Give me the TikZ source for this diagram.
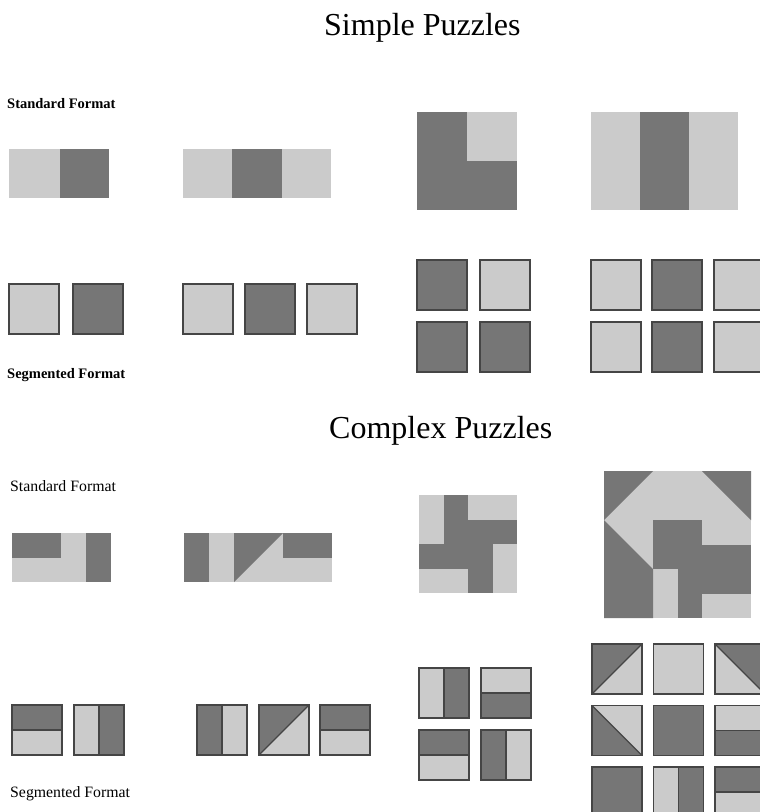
\documentclass[tikz,border=0pt]{standalone}
\usepackage{fontspec}
\setmainfont{Liberation Serif}
\definecolor{lightg}{HTML}{CBCBCB}
\definecolor{darkg}{HTML}{767676}
\definecolor{borderg}{HTML}{454545}
\tikzset{
  lt/.style={fill=lightg},
  dk/.style={fill=darkg},
  seg/.style={draw=borderg, line width=1.2pt, line join=miter},
  title/.style={anchor=base west, inner sep=0pt, font=\fontsize{32}{36}\selectfont},
  blabel/.style={anchor=base west, inner sep=0pt, font=\bfseries\fontsize{14.5}{17}\selectfont},
  rlabel/.style={anchor=base west, inner sep=0pt, font=\fontsize{15.8}{18}\selectfont},
}
% segmented 50x50 tiles, drawn in local coordinates
\newcommand\Tfull[3]{\begin{scope}[shift={(#1,#2)}]\filldraw[seg,#3] (0,0) rectangle (50,50);\end{scope}}
\newcommand\Thor[4]{\begin{scope}[shift={(#1,#2)}]
  \fill[#3] (0,0) rectangle (50,25); \fill[#4] (0,25) rectangle (50,50);
  \draw[seg] (0,25) -- (50,25); \draw[seg] (0,0) rectangle (50,50);\end{scope}}
\newcommand\Tver[4]{\begin{scope}[shift={(#1,#2)}]
  \fill[#3] (0,0) rectangle (25,50); \fill[#4] (25,0) rectangle (50,50);
  \draw[seg] (25,0) -- (25,50); \draw[seg] (0,0) rectangle (50,50);\end{scope}}
% triangle tiles: A = dark upper-left (diag BL-TR); B = dark upper-right (diag TL-BR); C = dark lower-left (diag TL-BR)
\newcommand\TtriA[2]{\begin{scope}[shift={(#1,#2)}]
  \fill[lt] (0,0) rectangle (50,50); \fill[dk] (0,0) -- (50,0) -- (0,50) -- cycle;
  \draw[seg] (0,50) -- (50,0); \draw[seg] (0,0) rectangle (50,50);\end{scope}}
\newcommand\TtriB[2]{\begin{scope}[shift={(#1,#2)}]
  \fill[lt] (0,0) rectangle (50,50); \fill[dk] (0,0) -- (50,0) -- (50,50) -- cycle;
  \draw[seg] (0,0) -- (50,50); \draw[seg] (0,0) rectangle (50,50);\end{scope}}
\newcommand\TtriC[2]{\begin{scope}[shift={(#1,#2)}]
  \fill[lt] (0,0) rectangle (50,50); \fill[dk] (0,0) -- (0,50) -- (50,50) -- cycle;
  \draw[seg] (0,0) -- (50,50); \draw[seg] (0,0) rectangle (50,50);\end{scope}}
\begin{document}
\begin{tikzpicture}[x=1pt,y=-1pt]
\useasboundingbox (0,0) rectangle (760,812);
\clip (0,0) rectangle (760,812);
\fill[white] (0,0) rectangle (760,812);

% ---------- titles and labels ----------
\node[title] (simple) at (324,35) {Simple Puzzles};
\node[title] (complex) at (329,438) {Complex Puzzles};
\node[blabel] (sstd) at (7,108) {Standard Format};
\node[blabel] (sseg) at (7,378) {Segmented Format};
\node[rlabel] (cstd) at (10,491) {Standard Format};
\node[rlabel] (cseg) at (10,797) {Segmented Format};

% ---------- simple, standard ----------
\fill[lt] (9,149) rectangle (60,198);
\fill[dk] (60,149) rectangle (109,198);

\fill[lt] (183,149) rectangle (232,198);
\fill[dk] (232,149) rectangle (282,198);
\fill[lt] (282,149) rectangle (331,198);

\fill[dk] (417,112) rectangle (517,210);
\fill[lt] (467,112) rectangle (517,161);

\fill[lt] (591,112) rectangle (640,210);
\fill[dk] (640,112) rectangle (689,210);
\fill[lt] (689,112) rectangle (738,210);

% ---------- simple, segmented ----------
\Tfull{9}{284}{lt}
\Tfull{73}{284}{dk}

\Tfull{183}{284}{lt}
\Tfull{245}{284}{dk}
\Tfull{307}{284}{lt}

\Tfull{417}{260}{dk}
\Tfull{480}{260}{lt}
\Tfull{417}{322}{dk}
\Tfull{480}{322}{dk}

\Tfull{591}{260}{lt}
\Tfull{652}{260}{dk}
\Tfull{714}{260}{lt}
\Tfull{591}{322}{lt}
\Tfull{652}{322}{dk}
\Tfull{714}{322}{lt}

% ---------- complex, standard ----------
\fill[lt] (12,533) rectangle (111,582);
\fill[dk] (12,533) rectangle (61,557.5);
\fill[dk] (86,533) rectangle (111,582);

\fill[dk] (184,533) rectangle (209,582);
\fill[lt] (209,533) rectangle (332,582);
\fill[dk] (234,533) -- (283,533) -- (234,582) -- cycle;
\fill[dk] (283,533) rectangle (332,557.5);

\begin{scope}[shift={(419,495)}, x=24.5pt, y=-24.5pt]
  \fill[lt] (0,0) rectangle (4,4);
  \fill[dk] (1,0) rectangle (2,1);
  \fill[dk] (1,1) rectangle (4,2);
  \fill[dk] (0,2) rectangle (3,3);
  \fill[dk] (2,3) rectangle (3,4);
\end{scope}

\begin{scope}[shift={(604,471)}, x=24.5pt, y=-24.5pt]
  \fill[lt] (0,0) rectangle (6,6);
  \fill[dk] (0,0) -- (2,0) -- (0,2) -- cycle;
  \fill[dk] (4,0) -- (6,0) -- (6,2) -- cycle;
  \fill[dk] (0,2) -- (2,4) -- (2,6) -- (0,6) -- cycle;
  \fill[dk] (2,2) rectangle (4,4);
  \fill[dk] (4,3) rectangle (6,5);
  \fill[dk] (3,4) rectangle (4,6);
\end{scope}

% ---------- complex, segmented ----------
\Thor{12}{705}{dk}{lt}
\Tver{74}{705}{lt}{dk}

\Tver{197}{705}{dk}{lt}
\TtriA{259}{705}
\Thor{320}{705}{dk}{lt}

\Tver{419}{668}{lt}{dk}
\Thor{481}{668}{lt}{dk}
\Thor{419}{730}{dk}{lt}
\Tver{481}{730}{dk}{lt}

\TtriA{592}{644}
\Tfull{653.5}{644}{lt}
\TtriB{715}{644}
\TtriC{592}{705.5}
\Tfull{653.5}{705.5}{dk}
\Thor{715}{705.5}{lt}{dk}
\Tfull{592}{767}{dk}
\Tver{653.5}{767}{lt}{dk}
\Thor{715}{767}{dk}{lt}
\end{tikzpicture}
\end{document}
